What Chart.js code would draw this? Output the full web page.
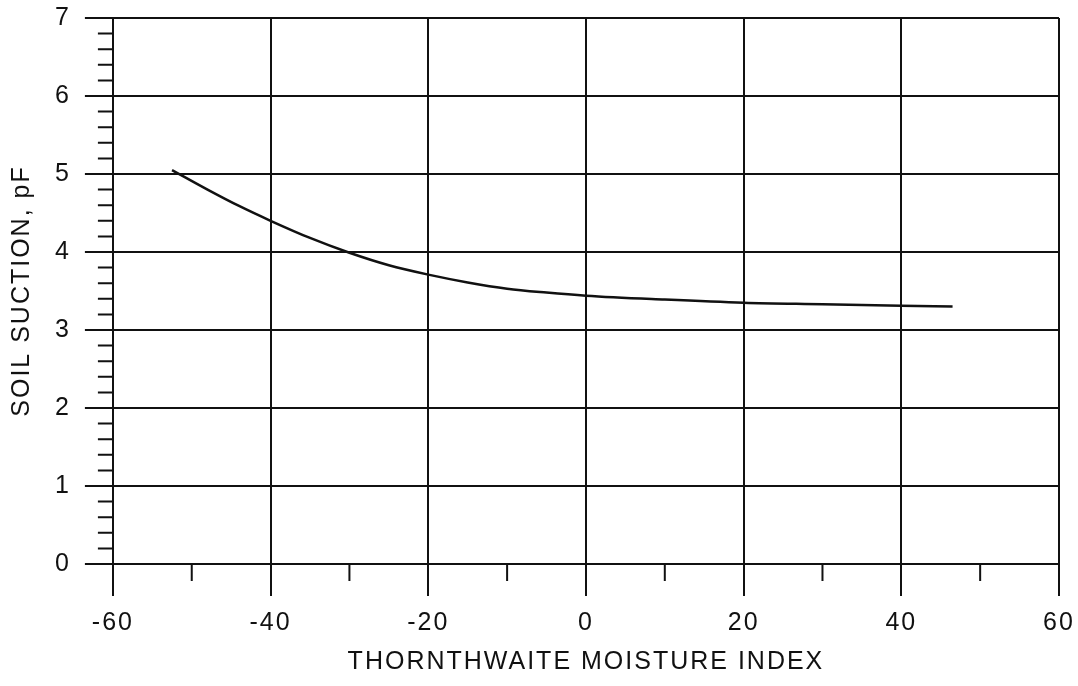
<!DOCTYPE html>
<html>
<head>
<meta charset="utf-8">
<script src="https://cdn.jsdelivr.net/npm/chart.js@4"></script>
<style>
  body { margin: 0; background: #fff; }
  canvas { display: block; }
</style>
</head>
<body>
<canvas id="chart-0" width="1078" height="686"></canvas>
<script>
    "use strict";
    /* curve: moisture index vs soil suction (pF) */
    var moistureIndex = [-52.5, -48, -44, -40, -35, -30, -25, -20, -15, -10, -5, 0, 10, 20, 30, 40, 46.5];
    var soilSuction = [5.05, 4.80, 4.59, 4.40, 4.18, 3.99, 3.83, 3.71, 3.61, 3.53, 3.48, 3.44, 3.39, 3.35, 3.33, 3.31, 3.30];

    /* axis ranges and the small unlabelled ticks */
    var xRange = [-60, 60];
    var yRange = [0, 7];
    var xMinorTicks = [-50, -30, -10, 10, 30, 50];
    var yMinorTicks = [];
    for (var v = 1; v < 35; v++) {
        if (v % 5 !== 0) yMinorTicks.push(v / 5);
    }

    var points = [];
    for (var i = 0; i < moistureIndex.length; i++) {
        points.push({ x: moistureIndex[i], y: soilSuction[i] });
    }

    var ink = "#111";
    var fontFamily = "'Liberation Sans', Arial, sans-serif";

    /* the scanned lettering is wide, so space the letters out a little */
    var letterSpacing = {
        id: "letterSpacing",
        beforeUpdate: function (chart) { chart.ctx.letterSpacing = "2px"; },
        beforeDraw: function (chart) { chart.ctx.letterSpacing = "2px"; }
    };

    /* short ticks below the x axis and left of the y axis */
    var minorTicks = {
        id: "minorTicks",
        afterDraw: function (chart) {
            var ctx = chart.ctx;
            var sx = chart.scales.x;
            var sy = chart.scales.y;
            ctx.save();
            ctx.strokeStyle = ink;
            ctx.lineWidth = 2;
            ctx.beginPath();
            xMinorTicks.forEach(function (t) {
                var px = sx.getPixelForValue(t);
                ctx.moveTo(px, sx.top);
                ctx.lineTo(px, sx.top + 17);
            });
            yMinorTicks.forEach(function (t) {
                var py = sy.getPixelForValue(t);
                ctx.moveTo(sy.right - 15, py);
                ctx.lineTo(sy.right, py);
            });
            ctx.stroke();
            ctx.restore();
        }
    };

    var ctx = document.getElementById("chart-0");

    var myChart = new Chart(ctx, {
        "type": "scatter",
        "data": {
            "datasets": [{
                "data": points,
                showLine: true,
                fill: false,
                borderColor: ink,
                borderWidth: 2.5,
                pointRadius: 0,
                cubicInterpolationMode: "monotone"
            }]
        },
        "options": {
            responsive: false,
            animation: false,
            devicePixelRatio: 1,
            layout: { padding: { top: 0, right: 0, left: 7, bottom: 9 } },
            plugins: {
                legend: { display: false },
                tooltip: { enabled: false }
            },
            scales: {
                x: {
                    type: "linear",
                    min: xRange[0],
                    max: xRange[1],
                    afterFit: function (scale) { scale.paddingRight = 19; },
                    ticks: {
                        stepSize: 20,
                        color: ink,
                        padding: 12,
                        font: { family: fontFamily, size: 25 }
                    },
                    grid: { color: ink, lineWidth: 2, tickLength: 32 },
                    border: { color: ink, width: 2 },
                    title: {
                        display: true,
                        text: "THORNTHWAITE MOISTURE INDEX",
                        color: ink,
                        padding: { top: -3, bottom: 0 },
                        font: { family: fontFamily, size: 25 }
                    }
                },
                y: {
                    min: yRange[0],
                    max: yRange[1],
                    afterFit: function (scale) { scale.paddingTop = 18; },
                    ticks: {
                        stepSize: 1,
                        color: ink,
                        padding: 14,
                        font: { family: fontFamily, size: 25 }
                    },
                    grid: { color: ink, lineWidth: 2, tickLength: 28 },
                    border: { color: ink, width: 2 },
                    title: {
                        display: true,
                        text: "SOIL SUCTION, pF",
                        color: ink,
                        padding: { top: 0, bottom: 4 },
                        font: { family: fontFamily, size: 25 }
                    }
                }
            }
        },
        plugins: [letterSpacing, minorTicks]
    });
</script>
</body>
</html>
